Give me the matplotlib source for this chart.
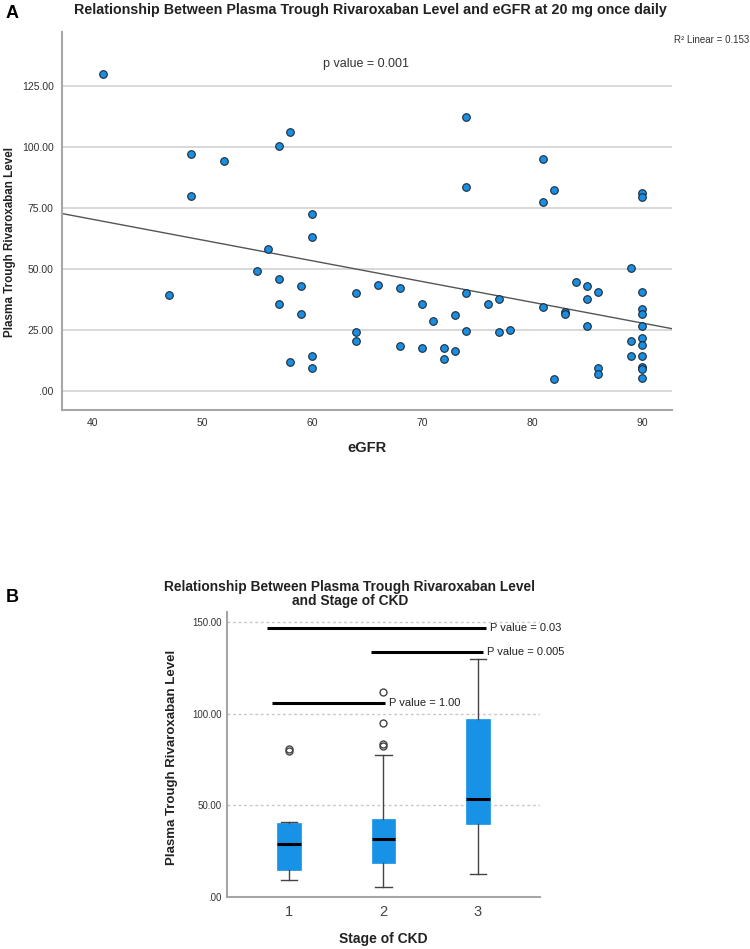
import numpy as np
import matplotlib
matplotlib.use("Agg")
import matplotlib.pyplot as plt

plt.rcParams['font.family'] = ['Liberation Sans', 'DejaVu Sans']

# ---------------- Data: panel A (scatter) ----------------
egfr = [41, 49, 52, 49, 56, 58, 57, 74, 74, 60, 60,
        81, 82, 81, 90, 90,
        47, 55,
        57, 57, 59, 59, 58, 60, 60, 64, 64, 64, 66, 68, 68, 70, 70, 71, 72, 72,
        73, 73, 74, 74, 76, 77, 77,
        78, 81, 82, 83, 83, 84, 85, 85, 85, 86, 86, 86, 89, 89, 89,
        90, 90, 90, 90, 90, 90, 90, 90, 90, 90]
trough = [130, 97, 94, 80, 58, 106, 100.5, 112, 83.5, 72.5, 63,
          95, 82.5, 77.5, 81, 79.5,
          39.5, 49,
          46, 35.5, 43, 31.5, 12, 14.5, 9.5, 40, 24, 20.5, 43.5, 42, 18.5, 35.5, 17.5, 28.5, 17.5, 13,
          31, 16.5, 40, 24.5, 35.5, 37.5, 24,
          25, 34.5, 5, 32.5, 31.5, 44.5, 43, 37.5, 26.5, 40.5, 9.5, 7, 50.5, 20.5, 14.5,
          40.5, 33.5, 31.5, 26.5, 21.5, 19, 14.5, 10, 9, 5.5]

a_yticks = [0, 25, 50, 75, 100, 125]
a_yticklabels = ['.00', '25.00', '50.00', '75.00', '100.00', '125.00']
a_xticks = [40, 50, 60, 70, 80, 90]
r2_text = 'R\u00b2 Linear = 0.153'
p_text_a = 'p value = 0.001'

# ---------------- Data: panel B (box plot) ----------------
stages = [1, 2, 3]
q1 = [14.9, 18.4, 39.7]
medians = [29.1, 31.5, 53.5]
q3 = [40.4, 42.4, 97.1]
whisk_lo = [9.3, 5.3, 12.4]
whisk_hi = [40.9, 77.5, 130]
fliers = [[79.5, 81], [82.5, 83.5, 95, 112], []]

b_yticks = [0, 50, 100, 150]
b_yticklabels = ['.00', '50.00', '100.00', '150.00']

comparisons = [  # (x_start, x_end, y, label)
    (0.76, 3.09, 146.8, 'P value = 0.03'),
    (1.87, 3.06, 133.7, 'P value = 0.005'),
    (0.82, 2.02, 105.8, 'P value = 1.00'),
]

W, H = 750, 949
fig = plt.figure(figsize=(W / 100, H / 100), dpi=100)

def fx(px):
    return px / W

def fy(py):
    return 1 - py / H

# ================= Panel A =================
axA = fig.add_axes([fx(62), fy(410), fx(672 - 62), (410 - 32) / H])
axA.set_xlim(37.27, 92.73)
axA.set_ylim(-7.8, 147)
for v in a_yticks:
    axA.axhline(v, color='#d6d6d6', lw=1.3, zorder=0)
axA.scatter(egfr, trough, s=30, facecolor='#1a8ee0', edgecolor='#1c2a3a',
            linewidths=0.8, zorder=3)
slope, intercept = np.polyfit(egfr, trough, 1)
xs = np.array(axA.get_xlim())
axA.plot(xs, intercept + slope * xs, color='#555555', lw=1.0, zorder=2)
axA.set_yticks(a_yticks)
axA.set_yticklabels(a_yticklabels)
axA.set_xticks(a_xticks)
axA.tick_params(length=0, labelsize=7.5, colors='#333333', pad=6)
for s in ['top', 'right']:
    axA.spines[s].set_visible(False)
for s in ['left', 'bottom']:
    axA.spines[s].set_color('#a6a6a6')
    axA.spines[s].set_linewidth(1.5)
axA.text(64.9, 134, p_text_a, ha='center', va='center', fontsize=9, color='#333333')

fig.text(fx(370), fy(10), 'Relationship Between Plasma Trough Rivaroxaban Level and eGFR at 20 mg once daily',
         ha='center', va='center', fontsize=10.3, fontweight='bold', color='#222222')
fig.text(fx(749), fy(40), r2_text, ha='right', va='center', fontsize=7, color='#333333')
fig.text(fx(12), fy(13), 'A', ha='center', va='center', fontsize=13, fontweight='bold')
fig.text(fx(10), fy(242), 'Plasma Trough Rivaroxaban Level', rotation=90,
         ha='center', va='center', fontsize=8.4, fontweight='bold', color='#222222')
fig.text(fx(367), fy(448), 'eGFR', ha='center', va='center', fontsize=10.5,
         fontweight='bold', color='#222222')

# ================= Panel B =================
axB = fig.add_axes([fx(227), fy(897), fx(540 - 227), (897 - 612) / H])
axB.set_xlim(0.34, 3.66)
axB.set_ylim(0, 155.5)
for v in b_yticks[1:]:
    axB.axhline(v, color='#c8c8c8', lw=1.0, ls=(0, (2, 2)), zorder=0)

stats = []
for i in range(len(stages)):
    stats.append(dict(med=medians[i], q1=q1[i], q3=q3[i],
                      whislo=whisk_lo[i], whishi=whisk_hi[i], fliers=fliers[i]))
axB.bxp(stats, positions=stages, widths=0.25, patch_artist=True,
        boxprops=dict(facecolor='#1792e6', edgecolor='#1792e6', linewidth=0.5),
        medianprops=dict(color='black', linewidth=2.2),
        whiskerprops=dict(color='#444444', linewidth=1.0),
        capprops=dict(color='#444444', linewidth=1.0),
        capwidths=0.17,
        flierprops=dict(marker='o', markerfacecolor='none', markeredgecolor='#444444',
                        markersize=5, markeredgewidth=1.0))

for x0, x1, y, lab in comparisons:
    axB.plot([x0, x1], [y, y], color='black', lw=2.2, solid_capstyle='butt', zorder=4)
    axB.text(x1 + 0.04, y, lab, ha='left', va='center', fontsize=8,
             color='#222222', clip_on=False)

axB.set_yticks(b_yticks)
axB.set_yticklabels(b_yticklabels)
axB.set_xticks(stages)
axB.set_xticklabels([str(s) for s in stages])
axB.tick_params(axis='y', length=0, labelsize=7, colors='#333333', pad=4)
axB.tick_params(axis='x', length=0, labelsize=10.5, colors='#444444', pad=6)
for s in ['top', 'right']:
    axB.spines[s].set_visible(False)
for s in ['left', 'bottom']:
    axB.spines[s].set_color('#a6a6a6')
    axB.spines[s].set_linewidth(1.5)

fig.text(fx(350), fy(594), 'Relationship Between Plasma Trough Rivaroxaban Level\nand Stage of CKD',
         ha='center', va='center', fontsize=9.9, fontweight='bold', color='#222222',
         linespacing=1.0, multialignment='center')
fig.text(fx(12), fy(598), 'B', ha='center', va='center', fontsize=13, fontweight='bold')
fig.text(fx(172), fy(757), 'Plasma Trough Rivaroxaban Level', rotation=90,
         ha='center', va='center', fontsize=9.5, fontweight='bold', color='#222222')
fig.text(fx(383), fy(939), 'Stage of CKD', ha='center', va='center', fontsize=10,
         fontweight='bold', color='#222222')

fig.savefig('out.png', dpi=100, facecolor='white')
